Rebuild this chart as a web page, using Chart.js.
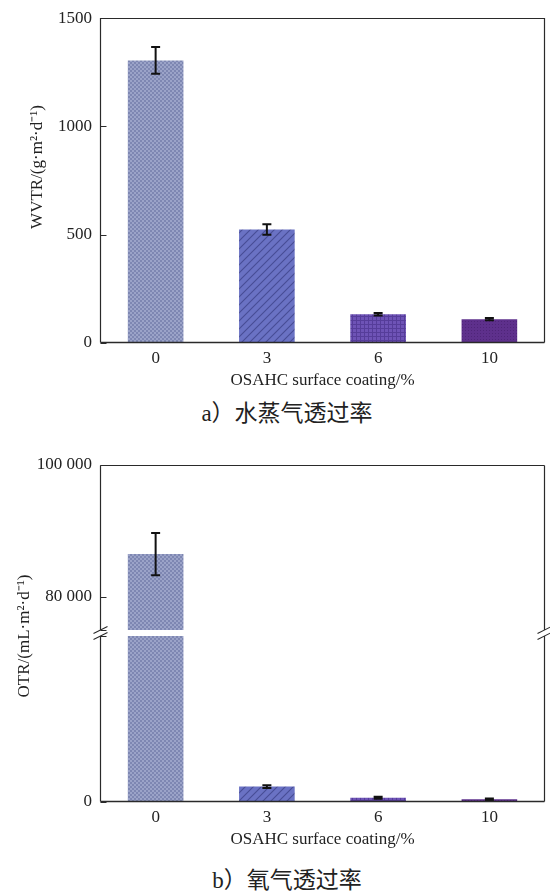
<!DOCTYPE html>
<html>
<head>
<meta charset="utf-8">
<script src="https://cdn.jsdelivr.net/npm/chart.js@4.4.0/dist/chart.umd.min.js"></script>
<style>
  html, body { margin: 0; padding: 0; background: #fff; }
  body { width: 550px; height: 892px; position: relative; overflow: hidden; }
  canvas { position: absolute; left: 0; }
  #chartA { top: 0; }
  #chartB { top: 440px; }
  .cap {
    position: absolute; left: 0; width: 550px; box-sizing: border-box;
    padding-left: 24px; text-align: center;
    font-family: "Liberation Serif", "Noto Sans CJK SC", serif;
    font-size: 23px; line-height: 30px; color: #222;
  }
</style>
</head>
<body>
<canvas id="chartA" width="550" height="391"></canvas>
<div class="cap" style="top:399px">a）水蒸气透过率</div>
<canvas id="chartB" width="550" height="410"></canvas>
<div class="cap" style="top:866px">b）氧气透过率</div>

<script>
// OSAHC surface coating levels (%)
const coatingLevels = ['0', '3', '6', '10'];

// Water vapour transmission rate, g·m⁻²·d⁻¹
const wvtrMean = [1305, 524, 133, 110];
const wvtrErr  = [62, 24, 6, 5];
const wvtrTicks = [0, 500, 1000, 1500];

// Oxygen transmission rate, mL·m⁻²·d⁻¹ (axis broken between the two ranges)
const otrMean = [86500, 2320, 650, 410];
const otrErr  = [3200, 200, 150, 120];
const otrUpperRange = [75000, 100000];
const otrLowerRange = [0, 25000];
const otrUpperTicks = [80000, 100000];
const otrLowerTicks = [0];

const SERIF = '"Liberation Serif", "Times New Roman", Times, serif';
const INK = '#222';

// Textured fills for the four coating levels
function makePattern(kind) {
  const c = document.createElement('canvas');
  const g = c.getContext('2d');
  if (kind === 'checker') {
    c.width = c.height = 4;
    g.fillStyle = '#9ba3c8'; g.fillRect(0, 0, 4, 4);
    g.fillStyle = '#7e87b2'; g.fillRect(0, 0, 2, 2); g.fillRect(2, 2, 2, 2);
  } else if (kind === 'diagonal') {
    c.width = c.height = 8;
    g.fillStyle = '#6a72c4'; g.fillRect(0, 0, 8, 8);
    g.strokeStyle = '#474d96'; g.lineWidth = 1.1;
    g.beginPath();
    g.moveTo(-1, 9); g.lineTo(9, -1);
    g.moveTo(-1, 1); g.lineTo(1, -1);
    g.moveTo(7, 9); g.lineTo(9, 7);
    g.stroke();
  } else if (kind === 'grid') {
    c.width = c.height = 4;
    g.fillStyle = '#6e53b6'; g.fillRect(0, 0, 4, 4);
    g.fillStyle = '#563d9a'; g.fillRect(0, 0, 4, 1); g.fillRect(0, 0, 1, 4);
  } else {
    c.width = c.height = 3;
    g.fillStyle = '#5e308c'; g.fillRect(0, 0, 3, 3);
    g.fillStyle = '#4f2579'; g.fillRect(0, 0, 1, 1);
  }
  return g.createPattern(c, 'repeat');
}
const barFills = [makePattern('checker'), makePattern('diagonal'), makePattern('grid'), makePattern('dots')];

// Clip each dataset to its own y scale band, then draw its error bars
const bandClip = {
  id: 'bandClip',
  beforeDatasetDraw(chart, args) {
    const ys = chart.scales[args.meta.yAxisID];
    const a = chart.chartArea;
    const ctx = chart.ctx;
    ctx.save();
    ctx.beginPath();
    ctx.rect(a.left, ys.top, a.right - a.left, ys.bottom - ys.top);
    ctx.clip();
  },
  afterDatasetDraw(chart, args) {
    const ctx = chart.ctx;
    const ds = chart.data.datasets[args.index];
    const ys = chart.scales[args.meta.yAxisID];
    const err = ds.errorBars;
    if (err) {
      ctx.strokeStyle = '#111';
      ctx.lineWidth = 2;
      args.meta.data.forEach((bar, i) => {
        const v = ds.data[i];
        const yHi = ys.getPixelForValue(v + err[i]);
        const yLo = ys.getPixelForValue(v - err[i]);
        const x = bar.x;
        ctx.beginPath();
        ctx.moveTo(x, yHi); ctx.lineTo(x, yLo);
        ctx.moveTo(x - 4.5, yHi); ctx.lineTo(x + 4.5, yHi);
        ctx.moveTo(x - 4.5, yLo); ctx.lineTo(x + 4.5, yLo);
        ctx.stroke();
      });
    }
    ctx.restore();
  }
};

// Box frame, inward ticks, optional axis break and rotated y title
const frame = {
  id: 'frame',
  afterDraw(chart, args, opts) {
    const ctx = chart.ctx;
    const a = chart.chartArea;
    const L = Math.round(a.left) + 0.5, R = Math.round(a.right) - 0.5;
    const T = Math.round(a.top) + 0.5, B = Math.round(a.bottom) - 0.5;
    ctx.save();
    ctx.strokeStyle = '#2a2a2a';
    ctx.lineWidth = 1.2;
    ctx.beginPath();
    const gap = opts.breakScale ? chart.scales[opts.breakScale] : null;
    if (gap) {
      const y1 = Math.round(gap.top), y2 = Math.round(gap.bottom);
      [L, R].forEach(x => {
        ctx.moveTo(x, T); ctx.lineTo(x, y1);
        ctx.moveTo(x, y2); ctx.lineTo(x, B);
      });
      ctx.moveTo(L, T); ctx.lineTo(R, T);
    } else {
      ctx.moveTo(L, B); ctx.lineTo(L, T); ctx.lineTo(R, T); ctx.lineTo(R, B);
    }
    ctx.stroke();
    // bottom axis, slightly heavier
    ctx.lineWidth = 1.6;
    ctx.beginPath();
    ctx.moveTo(L, B); ctx.lineTo(R, B);
    ctx.stroke();
    // axis-break marks
    if (gap) {
      ctx.lineWidth = 1.1;
      ctx.beginPath();
      [Math.round(gap.top), Math.round(gap.bottom)].forEach(y => {
        [L, R].forEach(x => {
          ctx.moveTo(x - 7, y + 3.5); ctx.lineTo(x + 7, y - 3.5);
        });
      });
      ctx.stroke();
    }
    // inward tick marks on every y scale
    ctx.lineWidth = 1.2;
    ctx.beginPath();
    Object.values(chart.scales).forEach(s => {
      if (s.axis !== 'y') return;
      s.ticks.forEach(t => {
        const y = Math.round(s.getPixelForValue(t.value)) + 0.5;
        ctx.moveTo(L, y); ctx.lineTo(L + 6, y);
      });
    });
    ctx.stroke();
    // y title
    if (opts.yTitle) {
      ctx.translate(opts.yTitle.x, opts.yTitle.y);
      ctx.rotate(-Math.PI / 2);
      ctx.fillStyle = INK;
      ctx.font = '17px ' + SERIF;
      ctx.textAlign = 'center';
      ctx.textBaseline = 'middle';
      ctx.fillText(opts.yTitle.text, 0, 0);
    }
    ctx.restore();
  }
};

// space grouping only for five-digit values and above
const fmtThousands = v => (Math.abs(v) >= 10000 ? String(v).replace(/\B(?=(\d{3})+(?!\d))/g, ' ') : String(v));

const tickFont = { family: SERIF, size: 17 };

function xScale() {
  return {
    grid: { display: false, drawTicks: false },
    border: { display: false },
    ticks: { color: INK, font: tickFont, padding: 5 },
    title: {
      display: true, text: 'OSAHC surface coating/%', color: INK,
      font: tickFont, padding: { top: 0, bottom: 0 }
    },
    afterFit(s) { s.height = 48; }
  };
}

function yScale(range, ticks, extra) {
  return Object.assign({
    type: 'linear',
    position: 'left',
    min: range[0], max: range[1],
    grid: { display: false, drawTicks: false },
    border: { display: false },
    ticks: {
      color: INK, font: tickFont, padding: 8,
      callback: v => fmtThousands(v)
    },
    afterBuildTicks(s) { s.ticks = ticks.map(v => ({ value: v })); },
    afterFit(s) { s.width = 100; }
  }, extra || {});
}

Chart.defaults.animation = false;
Chart.defaults.font.family = SERIF;

const chartA = new Chart(document.getElementById('chartA'), {
  type: 'bar',
  data: {
    labels: coatingLevels,
    datasets: [{
      data: wvtrMean,
      errorBars: wvtrErr,
      backgroundColor: barFills,
      borderWidth: 0,
      barPercentage: 0.5,
      categoryPercentage: 1.0
    }]
  },
  options: {
    responsive: false,
    layout: { padding: { top: 17, right: 5, left: 0, bottom: 0 } },
    plugins: {
      legend: { display: false },
      tooltip: { enabled: false },
      frame: { yTitle: { text: 'WVTR/(g·m²·d⁻¹)', x: 38, y: 167 } }
    },
    scales: {
      x: xScale(),
      y: yScale([0, 1500], wvtrTicks)
    }
  },
  plugins: [bandClip, frame]
});

// Stacked y scales: lower range at the bottom, a thin gap band, upper range on top
const chartB = new Chart(document.getElementById('chartB'), {
  type: 'bar',
  data: {
    labels: coatingLevels,
    datasets: [
      {
        data: otrMean, errorBars: otrErr, yAxisID: 'yTop',
        backgroundColor: barFills, borderWidth: 0,
        barPercentage: 0.5, categoryPercentage: 1.0, grouped: false
      },
      {
        data: otrMean, errorBars: otrErr, yAxisID: 'yBot',
        backgroundColor: barFills, borderWidth: 0,
        barPercentage: 0.5, categoryPercentage: 1.0, grouped: false
      }
    ]
  },
  options: {
    responsive: false,
    layout: { padding: { top: 25, right: 5, left: 0, bottom: 0 } },
    plugins: {
      legend: { display: false },
      tooltip: { enabled: false },
      frame: { breakScale: 'yGap', yTitle: { text: 'OTR/(mL·m²·d⁻¹)', x: 25, y: 196 } }
    },
    scales: {
      x: xScale(),
      yBot: yScale(otrLowerRange, otrLowerTicks, { stack: 'otr', stackWeight: 166 }),
      yGap: {
        type: 'linear', position: 'left', stack: 'otr', stackWeight: 6,
        min: 0, max: 1,
        grid: { display: false, drawTicks: false }, border: { display: false },
        ticks: { display: false },
        afterFit(s) { s.width = 100; }
      },
      yTop: yScale(otrUpperRange, otrUpperTicks, { stack: 'otr', stackWeight: 165 })
    }
  },
  plugins: [bandClip, frame]
});

// redraw once the serif face is ready so tick text uses it
if (document.fonts && document.fonts.load) {
  document.fonts.load('17px "Liberation Serif"').then(() => {
    chartA.update('none');
    chartB.update('none');
  });
}
</script>
</body>
</html>
